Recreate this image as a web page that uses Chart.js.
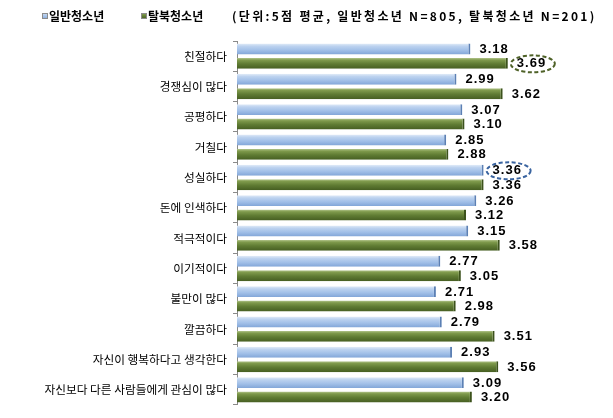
<!DOCTYPE html>
<html>
<head>
<meta charset="utf-8">
<script src="https://cdn.jsdelivr.net/npm/chart.js@4"></script>
<style>
  html, body { margin: 0; padding: 0; background: #fff; }
  #wrap { position: relative; width: 613px; height: 418px; }
</style>
</head>
<body>
<div id="wrap"><canvas id="trait-chart" width="613" height="418"></canvas></div>
<script>
const categories = ['친절하다', '경쟁심이 많다', '공평하다', '거칠다', '성실하다', '돈에 인색하다',
  '적극적이다', '이기적이다', '불만이 많다', '깔끔하다', '자신이 행복하다고 생각한다', '자신보다 다른 사람들에게 관심이 많다'];
const generalYouth = [3.18, 2.99, 3.07, 2.85, 3.36, 3.26, 3.15, 2.77, 2.71, 2.79, 2.93, 3.09];
const defectorYouth = [3.69, 3.62, 3.10, 2.88, 3.36, 3.12, 3.58, 3.05, 2.98, 3.51, 3.56, 3.20];
const seriesNames = ['일반청소년', '탈북청소년'];
const unitNote = '(단위:5점 평균, 일반청소년 N=805, 탈북청소년 N=201)';
// circled values: [datasetIndex, index]
const circled = [[1, 0], [0, 4]];

const KFONT = '"Noto Sans CJK KR", "Noto Sans", sans-serif';

function barGradient(stops, fallback) {
  return function (c) {
    const el = c.element;
    if (!el || el.y == null || el.height == null) return fallback;
    const g = c.chart.ctx.createLinearGradient(0, el.y - el.height / 2, 0, el.y + el.height / 2);
    stops.forEach(s => g.addColorStop(s[0], s[1]));
    return g;
  };
}

const blueStops = [[0, '#e2ecf8'], [0.25, '#bcd2ef'], [0.6, '#a2c0e8'], [1, '#82a6d8']];
const greenStops = [[0, '#b4c68e'], [0.2, '#7f9a4c'], [0.55, '#5f7b33'], [1, '#465e22']];

// value labels at bar ends + dashed ellipses
const valueLabels = {
  id: 'valueLabels',
  afterDatasetsDraw(chart) {
    const ctx = chart.ctx;
    ctx.save();
    ctx.font = 'bold 13px "Liberation Sans", Arial, sans-serif';
    ctx.letterSpacing = '1px';
    ctx.fillStyle = '#000';
    ctx.textBaseline = 'middle';
    ctx.textAlign = 'left';
    chart.data.datasets.forEach((ds, di) => {
      chart.getDatasetMeta(di).data.forEach((bar, i) => {
        ctx.fillText(ds.data[i].toFixed(2), bar.x + 9, bar.y + 0.5);
      });
    });
    ctx.letterSpacing = '0px';
    circled.forEach(([di, i]) => {
      const bar = chart.getDatasetMeta(di).data[i];
      ctx.beginPath();
      ctx.setLineDash([4, 2.5]);
      ctx.lineWidth = 2;
      ctx.strokeStyle = di === 1 ? '#4f6228' : '#3a64a0';
      ctx.ellipse(bar.x + 25, bar.y + 0.5, 22, 8.5, 0, 0, Math.PI * 2);
      ctx.stroke();
    });
    ctx.restore();
  }
};

// top legend row with unit note
const topLegend = {
  id: 'topLegend',
  afterDraw(chart) {
    const ctx = chart.ctx;
    ctx.save();
    ctx.textBaseline = 'middle';
    ctx.font = 'bold 12px ' + KFONT;
    const items = [[42, blueStops], [141, greenStops]];
    items.forEach(([x, stops], k) => {
      const g = ctx.createLinearGradient(0, 13, 0, 19);
      stops.forEach(s => g.addColorStop(s[0], s[1]));
      ctx.fillStyle = g;
      ctx.fillRect(x, 13, 6, 6);
      ctx.strokeStyle = '#8c8c8c';
      ctx.lineWidth = 1;
      ctx.strokeRect(x + 0.5, 13.5, 5, 5);
      ctx.fillStyle = '#000';
      ctx.fillText(seriesNames[k], x + 7, 16);
    });
    ctx.letterSpacing = '2.3px';
    ctx.fillText(unitNote, 232, 16);
    ctx.restore();
  }
};

const chart = new Chart(
  document.getElementById('trait-chart'),
  {
    type: 'bar',
    plugins: [valueLabels, topLegend],
    data: {
      labels: categories,
      datasets: [
        {
          label: seriesNames[0],
          data: generalYouth,
          backgroundColor: barGradient(blueStops, '#a4c1e8'),
          borderColor: '#5c80b4',
          borderWidth: { top: 0, right: 2, bottom: 0, left: 0 },
          borderSkipped: false,
          categoryPercentage: 0.95,
          barPercentage: 0.76
        },
        {
          label: seriesNames[1],
          data: defectorYouth,
          backgroundColor: barGradient(greenStops, '#5f7b33'),
          borderColor: '#3c521c',
          borderWidth: { top: 0, right: 2, bottom: 0, left: 0 },
          borderSkipped: false,
          categoryPercentage: 0.95,
          barPercentage: 0.76
        }
      ]
    },
    options: {
      indexAxis: 'y',
      responsive: false,
      animation: false,
      layout: { padding: { top: 41, bottom: 11, left: 0, right: 9 } },
      plugins: {
        legend: { display: false },
        tooltip: { enabled: false }
      },
      scales: {
        x: { min: 0, max: 5, display: false },
        y: {
          afterFit: s => { s.width = 237; },
          border: { display: true, color: '#8a8a8a', width: 1 },
          grid: { drawOnChartArea: false, tickLength: 4, color: '#8a8a8a' },
          ticks: {
            color: '#000',
            padding: 6,
            font: { family: KFONT, size: 11.7 }
          }
        }
      }
    }
  }
);
chart.update();
</script>
</body>
</html>
